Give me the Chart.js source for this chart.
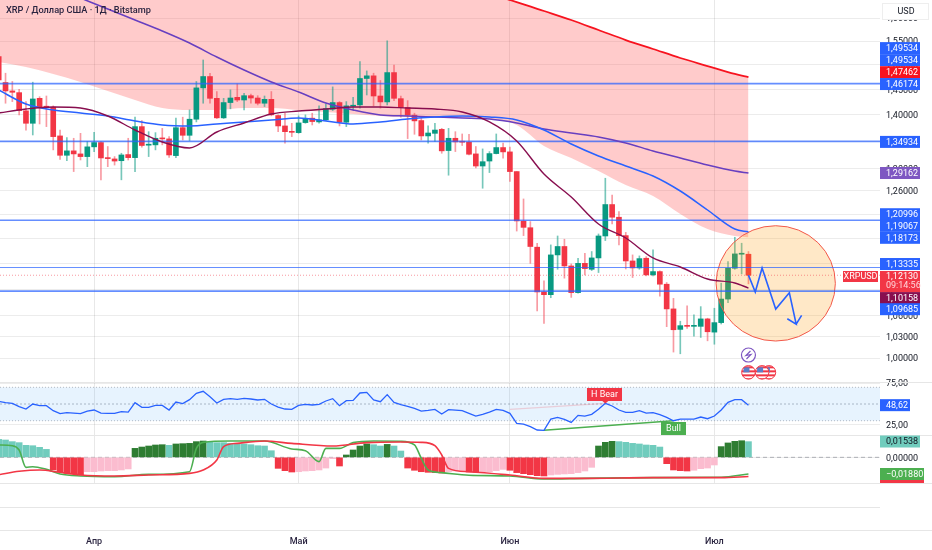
<!DOCTYPE html>
<html>
<head>
<meta charset="utf-8">
<title>XRPUSD</title>
<script src="https://cdn.jsdelivr.net/npm/chart.js@4"></script>
<style>
  html, body { margin: 0; padding: 0; background: #fff; }
  canvas { display: block; }
</style>
</head>
<body>
<canvas id="myChart" width="932" height="550"></canvas>
<script>
// candles, day 0 = 18 March
var opens = [1.5173,1.4638,1.4469,1.4435,1.4076,1.3836,1.4322,1.4160,1.4147,1.3596,1.3237,1.3318,1.3262,1.3213,1.3392,1.3472,1.3194,1.3170,1.3138,1.3250,1.3194,1.3772,1.3423,1.3429,1.3552,1.3540,1.3231,1.3752,1.3608,1.3914,1.4530,1.4760,1.4322,1.3940,1.4238,1.4341,1.4289,1.4374,1.4328,1.4225,1.4302,1.3985,1.3785,1.3682,1.3658,1.3849,1.3934,1.3862,1.3901,1.4108,1.4238,1.3856,1.4166,1.4192,1.4720,1.4774,1.4368,1.4251,1.4841,1.4315,1.4140,1.3992,1.3888,1.3596,1.3645,1.3720,1.3324,1.3552,1.3491,1.3478,1.3262,1.3042,1.3132,1.3268,1.3379,1.3299,1.2942,1.2083,1.1975,1.1657,1.0957,1.0916,1.1533,1.1668,1.1358,1.0947,1.1399,1.1306,1.1485,1.1839,1.2365,1.2150,1.1845,1.1437,1.1327,1.1480,1.1219,1.1270,1.1075,1.0703,1.0404,1.0458,1.0448,1.0448,1.0556,1.0365,1.0502,1.0850,1.1322,1.1544,1.1544];
var highs = [1.5244,1.4828,1.4659,1.4503,1.4257,1.4645,1.4354,1.4368,1.4173,1.3707,1.3565,1.3552,1.3645,1.3491,1.3664,1.3491,1.3398,1.3213,1.3274,1.3552,1.3953,1.3888,1.3676,1.3658,1.3739,1.3583,1.3934,1.3953,1.4095,1.4659,1.5102,1.4828,1.4456,1.4322,1.4490,1.4612,1.4422,1.4408,1.4374,1.4368,1.4456,1.3998,1.4030,1.3836,1.3979,1.3998,1.4030,1.4173,1.4212,1.4550,1.4257,1.4257,1.4341,1.5066,1.4875,1.4828,1.4679,1.5507,1.4997,1.4368,1.4276,1.4030,1.3934,1.3785,1.3836,1.3739,1.3739,1.3676,1.3633,1.3627,1.3398,1.3354,1.3305,1.3633,1.3460,1.3386,1.2942,1.2461,1.2077,1.1721,1.1127,1.1694,1.1839,1.1786,1.1389,1.1480,1.1560,1.1587,1.1872,1.2823,1.2529,1.2246,1.1898,1.1533,1.1517,1.1506,1.1614,1.1281,1.1101,1.0860,1.0522,1.0747,1.0615,1.0737,1.0566,1.0713,1.1091,1.1426,1.1818,1.1721,1.1587];
var lows = [1.4591,1.4225,1.4257,1.3998,1.3707,1.3614,1.3823,1.3772,1.3336,1.3163,1.3138,1.2942,1.3151,1.3030,1.3305,1.2795,1.3030,1.3059,1.2795,1.3151,1.2942,1.3386,1.3213,1.3336,1.3429,1.3200,1.3194,1.3521,1.3509,1.3862,1.4225,1.4225,1.3927,1.3927,1.4115,1.4257,1.4095,1.4225,1.4192,1.4160,1.3979,1.3676,1.3460,1.3583,1.3645,1.3836,1.3804,1.3836,1.3888,1.4082,1.3785,1.3772,1.4095,1.4128,1.4388,1.4173,1.4128,1.4192,1.4276,1.3953,1.3546,1.3627,1.3521,1.3460,1.3491,1.3274,1.2877,1.3305,1.3417,1.3243,1.3007,1.2647,1.2924,1.3262,1.3182,1.2766,1.1920,1.1845,1.1399,1.0674,1.0492,1.0870,1.1306,1.1168,1.0875,1.0937,1.1219,1.1286,1.1255,1.1764,1.2037,1.1694,1.1311,1.1178,1.1306,1.1204,1.1204,1.0895,1.0443,1.0083,1.0059,1.0418,1.0308,1.0289,1.0241,1.0193,1.0482,1.0796,1.1306,1.1234,1.1080];
var closes = [1.4692,1.4469,1.4442,1.4082,1.3836,1.4309,1.4147,1.4147,1.3583,1.3237,1.3318,1.3262,1.3213,1.3392,1.3472,1.3188,1.3176,1.3132,1.3243,1.3194,1.3772,1.3417,1.3441,1.3552,1.3540,1.3243,1.3752,1.3608,1.3914,1.4530,1.4760,1.4322,1.3940,1.4238,1.4328,1.4289,1.4374,1.4328,1.4225,1.4302,1.3998,1.3785,1.3676,1.3664,1.3843,1.3921,1.3869,1.3901,1.4121,1.4238,1.3856,1.4173,1.4186,1.4720,1.4774,1.4368,1.4251,1.4841,1.4322,1.4140,1.3992,1.3882,1.3596,1.3651,1.3707,1.3318,1.3552,1.3484,1.3478,1.3256,1.3042,1.3120,1.3268,1.3379,1.3299,1.2942,1.2088,1.1981,1.1668,1.0957,1.0916,1.1533,1.1668,1.1358,1.0947,1.1399,1.1317,1.1485,1.1839,1.2365,1.2150,1.1845,1.1437,1.1327,1.1474,1.1219,1.1270,1.1075,1.0703,1.0399,1.0458,1.0448,1.0458,1.0556,1.0370,1.0502,1.0850,1.1322,1.1549,1.1560,1.1213];

// moving averages and the cloud, read every four days
var lineDays = [0,4,8,12,16,20,24,28,32,36,40,44,48,52,56,60,64,68,72,76,80,84,88,92,96,100,104,108,110];
var purpleMa = [null,null,null,1.6453,1.6204,1.5960,1.5719,1.5460,1.5164,1.4893,1.4649,1.4447,1.4229,1.4092,1.3995,1.3976,1.3957,1.3938,1.3918,1.3842,1.3727,1.3651,1.3576,1.3464,1.3316,1.3187,1.3060,1.2952,1.2916];
var blueMa = [1.4487,1.4210,1.4092,1.4034,1.3976,1.3880,1.3803,1.3784,1.3822,1.3861,1.3899,1.3938,1.3880,1.3822,1.3861,1.3918,1.3957,1.3976,1.3957,1.3899,1.3708,1.3445,1.3224,1.3042,1.2863,1.2599,1.2272,1.1953,1.1907];
var maroonMa = [1.4034,1.4111,1.4151,1.4131,1.3976,1.3708,1.3482,1.3371,1.3670,1.3842,1.4014,1.4072,1.4111,1.4151,1.4151,1.4131,1.4111,1.4053,1.3861,1.3501,1.2898,1.2494,1.2037,1.1806,1.1484,1.1342,1.1155,1.1094,1.1016];
var redMa = [1.90,1.89,1.88,1.865,1.85,1.84,1.825,1.81,1.795,1.78,1.77,1.755,1.74,1.725,1.71,1.695,1.68,1.67,1.655,1.636,1.616,1.596,1.5741,1.5524,1.5333,1.5143,1.4976,1.4812,1.4746];
var cloudLow = [1.5059,1.4954,1.4812,1.4649,1.4467,1.4288,1.4131,1.4092,1.4092,1.4131,1.4131,1.4092,1.4053,1.4014,1.3976,1.3957,1.3957,1.3938,1.3918,1.3803,1.3408,1.3187,1.2952,1.2703,1.2511,1.2204,1.1953,1.1838,1.1817];

// horizontal levels and the drawn forecast
var levelPrices = [1.46174,1.34934,1.20996,1.13335,1.09685];
var lastPrice = 1.1213;
var forecastDays = [110,111,112,114,116,117,115.7,117,117.8];
var forecastPrices = [1.1215,1.0956,1.1326,1.0701,1.0945,1.0481,1.0559,1.0481,1.0608];
var circleDays = [105.25,122.75];
var circlePrices = [1.0238,1.2008];
var eventDay = 110;
var eventPrice = 1.0042;
var flagDays = [110,112,113];
var flagPrice = 0.9804;

// rsi, one value per candle
var rsiValues = [53.2,51.6,50.8,46.8,44.0,50.0,48.0,48.0,42.0,38.4,39.6,39.2,38.4,41.6,42.8,39.2,38.8,38.8,40.8,40.4,51.6,46.0,46.0,48.4,48.4,42.8,52.4,50.4,55.2,62.8,65.2,58.8,51.2,55.6,56.4,55.6,56.8,56.0,54.8,55.6,50.0,46.4,44.0,43.6,48.4,49.6,48.8,49.6,53.6,56.4,48.0,54.0,54.4,63.2,64.0,54.8,52.8,61.2,52.0,49.2,47.2,44.8,41.6,42.4,43.6,38.0,43.2,42.8,42.0,38.8,35.6,37.6,40.4,43.6,42.4,38.8,26.8,26.0,22.9,18.9,18.5,32.0,34.0,31.6,28.0,36.4,35.6,37.6,43.6,50.8,47.6,42.8,40.0,40.0,42.0,39.2,39.6,37.2,34.0,30.0,32.0,32.0,32.0,34.4,32.4,35.6,42.8,52.0,55.2,55.2,48.62];
var bearDays = [75,89];
var bearRsi = [43.6,50.8];
var bullDays = [80,99];
var bullRsi = [18.5,30.0];

// macd
var histValues = [0.0176,0.0170,0.0154,0.0144,0.0118,0.0114,0.0098,0.0078,-0.0124,-0.0141,-0.0157,-0.0160,-0.0170,-0.0141,-0.0141,-0.0134,-0.0131,-0.0131,-0.0124,-0.0114,0.0088,0.0101,0.0111,0.0121,0.0124,0.0118,0.0131,0.0134,0.0137,0.0154,0.0160,0.0147,0.0144,0.0144,0.0137,0.0131,0.0131,0.0124,0.0114,0.0111,0.0065,-0.0108,-0.0131,-0.0144,-0.0141,-0.0134,-0.0131,-0.0124,-0.0105,-0.0013,-0.0085,0.0023,0.0072,0.0111,0.0131,0.0124,0.0111,0.0127,0.0111,0.0062,-0.0105,-0.0127,-0.0141,-0.0147,-0.0150,-0.0154,-0.0141,-0.0134,-0.0127,-0.0144,-0.0147,-0.0144,-0.0141,-0.0131,-0.0118,-0.0127,-0.0150,-0.0160,-0.0170,-0.0180,-0.0183,-0.0173,-0.0167,-0.0163,-0.0160,-0.0150,-0.0134,-0.0098,0.0111,0.0147,0.0157,0.0154,0.0147,0.0137,0.0131,0.0121,0.0118,0.0101,-0.0062,-0.0124,-0.0131,-0.0134,-0.0127,-0.0111,-0.0105,-0.0075,0.0105,0.0141,0.0157,0.0163,0.01538];
var greenDays = [0,2,3,4,5,7,9,12,17,22,28,29,30,34,39,43,45,47,48,50,52,55,59,61,62,63,65,69,75,80,86,96,106,110];
var greenLine = [0.0121,0.0114,0.0072,-0.0098,-0.0092,-0.0118,-0.0163,-0.0183,-0.0190,-0.0167,-0.0141,0.0088,0.0147,0.0160,0.0160,0.0082,0.0065,-0.0042,0.0088,0.0088,0.0144,0.0160,0.0157,0.0121,-0.0010,-0.0124,-0.0150,-0.0176,-0.0183,-0.0212,-0.0206,-0.0199,-0.0196,-0.0163];
var redDays = [0,3,6,9,12,17,22,28,30,32,33,35,39,43,49,54,59,62,64,65,66,69,75,80,86,96,106,110];
var redLine = [-0.0170,-0.0137,-0.0124,-0.0147,-0.0173,-0.0183,-0.0173,-0.0157,-0.0124,-0.0026,0.0105,0.0137,0.0160,0.0137,0.0111,0.0144,0.0150,0.0147,0.0114,0.0023,-0.0108,-0.0141,-0.0173,-0.0206,-0.0206,-0.0199,-0.0199,-0.0188];

// axes
var priceTicks = [1.6,1.55,1.5,1.45,1.4,1.35,1.3,1.26,1.22,1.18,1.14,1.1,1.06,1.03,1];
var rsiTicks = [75,25];
var macdTicks = [0];
var monthDays = [14,44,75,105];
var monthLabels = ['Апр','Май','Июн','Июл'];

var xMin = 0.19, xMax = 129.3;
var font = 'Roboto, "Noto Sans", sans-serif';
var upColor = '#089981', downColor = '#f23645';
var gridColor = 'rgba(0,0,0,0.075)';

function pts(days, values) {
  return days.map(function (d, i) { return { x: d, y: values[i] }; });
}
function comma(v, digits) {
  return v.toFixed(digits).replace('.', ',');
}
var candleDays = opens.map(function (o, i) { return i; });

var bodies = candleDays.map(function (d) { return { x: d, y: [opens[d], closes[d]] }; });
var wicks = candleDays.map(function (d) { return { x: d, y: [lows[d], highs[d]] }; });
var bodyColors = candleDays.map(function (d) { return closes[d] >= opens[d] ? upColor : downColor; });
var wickColors = candleDays.map(function (d) { return closes[d] >= opens[d] ? 'rgba(8,153,129,0.55)' : 'rgba(242,54,69,0.5)'; });

var histColors = histValues.map(function (v, i) {
  var prev = i ? histValues[i - 1] : v;
  if (v >= 0) return v > prev ? '#2e7d32' : '#70ccbd';
  return v < prev ? '#f23645' : '#fbbccf';
});

function priceLine(values, color, width) {
  return { type: 'line', data: pts(lineDays, values), yAxisID: 'y', borderColor: color, borderWidth: width, pointRadius: 0, cubicInterpolationMode: 'monotone', fill: false, order: 1 };
}
function flatLine(value, axis, color, width, dash, order) {
  return { type: 'line', data: [{ x: xMin, y: value }, { x: xMax, y: value }], yAxisID: axis, borderColor: color, borderWidth: width, borderDash: dash, pointRadius: 0, fill: false, order: order };
}

var datasets = [
  // cloud
  { type: 'line', label: 'cloudTop', data: pts(lineDays, redMa), yAxisID: 'y', borderWidth: 0, pointRadius: 0, cubicInterpolationMode: 'monotone', fill: '+1', backgroundColor: 'rgba(255,70,70,0.28)', order: 10 },
  { type: 'line', label: 'cloudLow', data: pts(lineDays, cloudLow), yAxisID: 'y', borderWidth: 0, pointRadius: 0, cubicInterpolationMode: 'monotone', fill: false, order: 10 },
  // candles
  { type: 'bar', label: 'wicks', data: wicks, yAxisID: 'y', backgroundColor: wickColors, barThickness: 1, grouped: false, order: 6 },
  { type: 'bar', label: 'candles', data: bodies, yAxisID: 'y', backgroundColor: bodyColors, barThickness: 5, minBarLength: 1, grouped: false, order: 5 },
  // moving averages
  priceLine(maroonMa, '#880e4f', 1.4),
  priceLine(blueMa, '#2962ff', 1.5),
  priceLine(purpleMa, '#673fc0', 1.5),
  priceLine(redMa, '#f7131f', 1.8),
  flatLine(lastPrice, 'y', 'rgba(242,54,69,0.5)', 1, [1, 2], 3),
  // forecast path
  { type: 'line', data: pts(forecastDays, forecastPrices), yAxisID: 'y', borderColor: '#2962ff', borderWidth: 1.6, pointRadius: 0, fill: false, order: 0 },
  // rsi
  Object.assign(flatLine(70, 'rsi', 'rgba(120,123,134,0.5)', 1, [1, 2], 8), { fill: '+1', backgroundColor: 'rgba(33,150,243,0.11)' }),
  flatLine(30, 'rsi', 'rgba(120,123,134,0.5)', 1, [1, 2], 8),
  flatLine(50, 'rsi', 'rgba(120,123,134,0.5)', 1, [2, 2], 8),
  { type: 'line', data: pts(bearDays, bearRsi), yAxisID: 'rsi', borderColor: 'rgba(242,54,69,0.2)', borderWidth: 1.4, pointRadius: 0, fill: false, order: 2 },
  { type: 'line', data: pts(bullDays, bullRsi), yAxisID: 'rsi', borderColor: '#4caf50', borderWidth: 1.4, pointRadius: 0, fill: false, order: 2 },
  { type: 'line', data: pts(candleDays, rsiValues), yAxisID: 'rsi', borderColor: '#2962ff', borderWidth: 1.3, pointRadius: 0, fill: false, order: 1 },
  // macd
  flatLine(0, 'macd', 'rgba(120,123,134,0.55)', 1, [4, 3], 8),
  { type: 'bar', data: pts(candleDays, histValues), yAxisID: 'macd', backgroundColor: histColors, barThickness: 6, grouped: false, order: 5 },
  { type: 'line', data: pts(greenDays, greenLine), yAxisID: 'macd', borderColor: '#4caf50', borderWidth: 1.6, pointRadius: 0, cubicInterpolationMode: 'monotone', fill: false, order: 2 },
  { type: 'line', data: pts(redDays, redLine), yAxisID: 'macd', borderColor: '#f23645', borderWidth: 1.6, pointRadius: 0, cubicInterpolationMode: 'monotone', fill: false, order: 1 }
];
levelPrices.forEach(function (p) {
  datasets.push(flatLine(p, 'y', 'rgba(41,98,255,0.72)', p === 1.13335 ? 1 : 1.7, [], 4));
});

function tag(ctx, text, y, bg, fg, w) {
  ctx.fillStyle = bg;
  ctx.fillRect(880, y - 6, w || 40, 12);
  ctx.fillStyle = fg || '#fff';
  ctx.font = '9px ' + font;
  ctx.textAlign = 'left';
  ctx.textBaseline = 'middle';
  ctx.fillText(text, 886, y + 0.5);
}

// ellipse goes on top of the candles, under the levels and the forecast
var circlePlugin = {
  id: 'circle',
  afterDatasetDraw: function (chart, args) {
    if (chart.data.datasets[args.index].label !== 'candles') return;
    var ctx = chart.ctx, x = chart.scales.x, y = chart.scales.y;
    var x0 = x.getPixelForValue(circleDays[0]), x1 = x.getPixelForValue(circleDays[1]);
    var y0 = y.getPixelForValue(circlePrices[1]), y1 = y.getPixelForValue(circlePrices[0]);
    ctx.save();
    ctx.beginPath();
    ctx.ellipse((x0 + x1) / 2, (y0 + y1) / 2, (x1 - x0) / 2, (y1 - y0) / 2, 0, 0, Math.PI * 2);
    ctx.fillStyle = 'rgba(255,152,0,0.22)';
    ctx.fill();
    ctx.strokeStyle = '#f2584a';
    ctx.lineWidth = 1;
    ctx.stroke();
    ctx.restore();
  }
};

var overlayPlugin = {
  id: 'overlay',
  afterDraw: function (chart) {
    var ctx = chart.ctx, sx = chart.scales.x, sy = chart.scales.y, rsi = chart.scales.rsi;
    ctx.save();

    // pane separators and lower grid
    ctx.strokeStyle = '#e6e6e6';
    ctx.lineWidth = 1;
    [[382.5, 932], [435.5, 932], [483.5, 932], [507.5, 880], [530.5, 932]].forEach(function (l) {
      ctx.beginPath();
      ctx.moveTo(0, l[0]);
      ctx.lineTo(l[1], l[0]);
      ctx.stroke();
    });

    // title
    ctx.fillStyle = '#2a2440';
    ctx.font = '500 9.2px ' + font;
    ctx.textAlign = 'left';
    ctx.textBaseline = 'middle';
    ctx.fillText('XRP / Доллар США · 1Д · Bitstamp', 6, 11);

    // usd box
    ctx.fillStyle = '#fff';
    ctx.fillRect(882, 3, 47, 17);
    ctx.strokeStyle = '#eeeeee';
    ctx.strokeRect(882.5, 3.5, 46, 16);
    ctx.fillStyle = '#131722';
    ctx.font = '9px ' + font;
    ctx.textAlign = 'center';
    ctx.fillText('USD', 906, 12);

    // price tags, some are pushed apart like on the original
    var blue = '#2962ff';
    [[1.49534, -19, blue], [1.49534, -7, blue], [1.47462, -5, '#f7131f'], [1.46174, 0.5, blue], [1.34934, 0.5, blue],
     [1.29162, 0, '#7e57c2'], [1.20996, -6, blue], [1.19067, -6, blue], [1.18173, 0.5, blue], [1.13335, -3.5, blue],
     [1.10158, 10, '#880e4f'], [1.09685, 18, blue]].forEach(function (t) {
      tag(ctx, comma(t[0], 5), sy.getPixelForValue(t[0]) + t[1], t[2]);
    });

    // last price with countdown
    ctx.fillStyle = '#f23645';
    ctx.fillRect(880, 271, 40, 21);
    ctx.fillRect(843, 271, 35, 11);
    ctx.fillStyle = '#fff';
    ctx.font = '9px ' + font;
    ctx.textAlign = 'left';
    ctx.fillText(comma(lastPrice, 5), 886, 276.5);
    ctx.fillStyle = '#ffd6da';
    ctx.fillText('09:14:56', 886, 286);
    ctx.fillStyle = '#fff';
    ctx.textAlign = 'center';
    ctx.fillText('XRPUSD', 860.5, 277);

    // lower pane tags
    tag(ctx, comma(rsiValues[rsiValues.length - 1], 2), rsi.getPixelForValue(rsiValues[rsiValues.length - 1]), blue, '#fff', 30);
    tag(ctx, comma(histValues[histValues.length - 1], 5), 441.5, '#70ccbd', '#131722', 40);
    tag(ctx, comma(redLine[redLine.length - 1], 5).replace('-', '−'), 474, '#4caf50', '#fff', 44);
    ctx.fillStyle = '#f23645';
    ctx.fillRect(880, 480, 44, 3);

    // divergence labels
    function badge(text, left, top, w, h, bg) {
      ctx.fillStyle = bg;
      ctx.fillRect(left, top, w, h);
      ctx.fillStyle = '#fff';
      ctx.font = '9px ' + font;
      ctx.textAlign = 'center';
      ctx.textBaseline = 'middle';
      ctx.fillText(text, left + w / 2, top + h / 2 + 0.5);
    }
    var bearX = sx.getPixelForValue(bearDays[1]);
    ctx.fillStyle = '#f23645';
    ctx.beginPath();
    ctx.moveTo(bearX - 3, 401);
    ctx.lineTo(bearX + 3, 401);
    ctx.lineTo(bearX, 403.5);
    ctx.fill();
    badge('H Bear', 587, 388, 35, 13, '#f23645');
    badge('Bull', 661, 422, 25, 13, '#4caf50');

    // events
    var ex = sx.getPixelForValue(eventDay), ey = sy.getPixelForValue(eventPrice);
    ctx.beginPath();
    ctx.arc(ex, ey, 7, 0, Math.PI * 2);
    ctx.fillStyle = '#fff';
    ctx.fill();
    ctx.strokeStyle = '#7e57c2';
    ctx.lineWidth = 1.2;
    ctx.stroke();
    ctx.beginPath();
    ctx.moveTo(ex + 2, ey - 4);
    ctx.lineTo(ex - 2.5, ey + 0.5);
    ctx.lineTo(ex + 2.5, ey - 0.5);
    ctx.lineTo(ex - 2, ey + 4);
    ctx.strokeStyle = '#7e57c2';
    ctx.stroke();

    var fy = sy.getPixelForValue(flagPrice);
    flagDays.slice().reverse().forEach(function (d) {
      var fx = sx.getPixelForValue(d);
      ctx.save();
      ctx.beginPath();
      ctx.arc(fx, fy, 6.8, 0, Math.PI * 2);
      ctx.fillStyle = '#fff';
      ctx.fill();
      ctx.clip();
      ctx.fillStyle = '#f23645';
      for (var s = -6; s < 7; s += 4) ctx.fillRect(fx - 7, fy + s, 14, 2);
      ctx.fillStyle = '#5b7ec9';
      ctx.fillRect(fx - 5, fy - 5, 6, 5);
      ctx.restore();
      ctx.beginPath();
      ctx.arc(fx, fy, 6.8, 0, Math.PI * 2);
      ctx.strokeStyle = '#f23645';
      ctx.lineWidth = 1;
      ctx.stroke();
    });

    ctx.restore();
  }
};

function rightAxis(weight, ticks, label) {
  return {
    position: 'right',
    stack: 'panes',
    stackWeight: weight,
    border: { display: false },
    grid: { color: gridColor, drawTicks: false },
    afterBuildTicks: function (scale) {
      scale.ticks = ticks.map(function (v) { return { value: v }; });
    },
    afterFit: function (scale) {
      scale.width = 52;
      scale.paddingTop = 0;
      scale.paddingBottom = 0;
    },
    ticks: { callback: label, autoSkip: false, padding: 6, labelOffset: 1, color: '#131722', font: { family: font, size: 9 } }
  };
}

var yAxis = rightAxis(382, priceTicks, function (v) { return comma(v, 5); });
yAxis.type = 'logarithmic';
yAxis.min = 0.9674;
yAxis.max = 1.6408;
var rsiAxis = rightAxis(53, rsiTicks, function (v) { return comma(v, 2); });
rsiAxis.min = 12.9;
rsiAxis.max = 76.35;
var macdAxis = rightAxis(48, macdTicks, function (v) { return comma(v, 5); });
macdAxis.min = -0.02517;
macdAxis.max = 0.0219;

var myChart = new Chart(document.getElementById('myChart'), {
  data: { datasets: datasets },
  plugins: [circlePlugin, overlayPlugin],
  options: {
    responsive: false,
    animation: false,
    layout: { padding: 0 },
    plugins: { legend: { display: false }, tooltip: { enabled: false }, title: { display: false } },
    scales: {
      x: {
        type: 'linear',
        offset: false,
        min: xMin,
        max: xMax,
        border: { display: false },
        grid: { color: 'rgba(0,0,0,0.09)', drawTicks: false, offset: false },
        afterBuildTicks: function (scale) {
          scale.ticks = monthDays.map(function (v) { return { value: v }; });
        },
        afterFit: function (scale) {
          scale.height = 67;
          scale.paddingLeft = 0;
          scale.paddingRight = 0;
        },
        ticks: {
          autoSkip: false,
          maxRotation: 0,
          padding: 53,
          color: '#2a2440',
          font: { family: font, size: 9, weight: '500' },
          callback: function (v) { return monthLabels[monthDays.indexOf(v)]; }
        }
      },
      y: yAxis,
      rsi: rsiAxis,
      macd: macdAxis
    }
  }
});
</script>
</body>
</html>
